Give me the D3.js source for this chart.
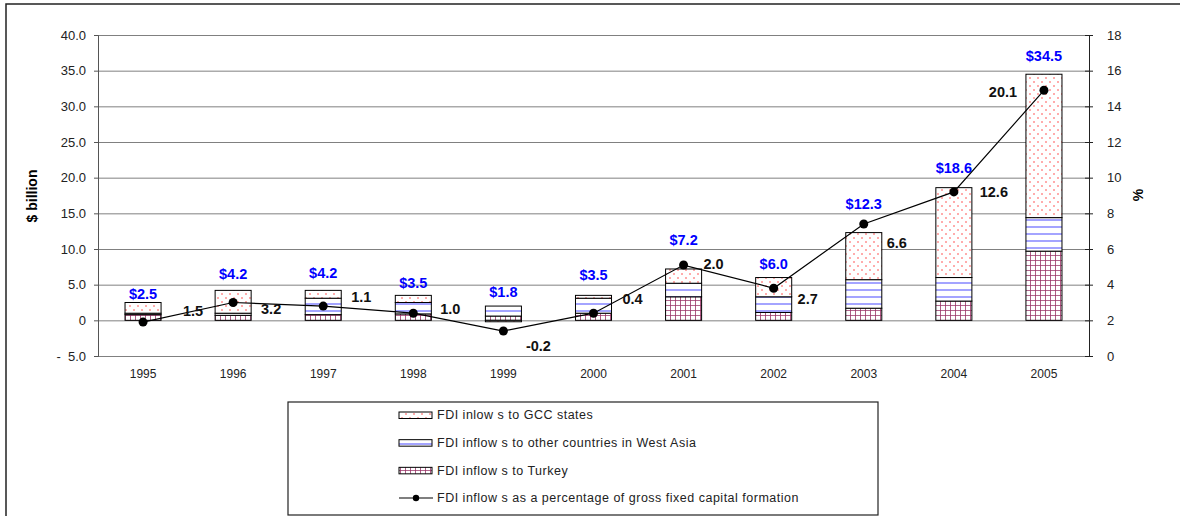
<!DOCTYPE html>
<html>
<head>
<meta charset="utf-8">
<script src="https://cdn.jsdelivr.net/npm/d3@7/dist/d3.min.js"></script>
<style>
  body { margin: 0; background: #fff; }
  text { font-family: "Liberation Sans", Arial, sans-serif; }
</style>
</head>
<body>
<div id="chart"></div>
<script>
// data
var years = ["1995", "1996", "1997", "1998", "1999", "2000", "2001", "2002", "2003", "2004", "2005"];
var turkey = [0.8, 0.7, 0.8, 0.9, 0.6, 1.0, 3.3, 1.1, 1.7, 2.7, 9.7];
var otherWestAsia = [0.2, 0.3, 2.3, 1.6, 1.4, 2.1, 1.9, 2.2, 4.0, 3.3, 4.7];
var gcc = [1.5, 3.2, 1.1, 1.0, -0.2, 0.4, 2.0, 2.7, 6.6, 12.6, 20.1];
var totals = [2.5, 4.2, 4.2, 3.5, 1.8, 3.5, 7.2, 6.0, 12.3, 18.6, 34.5];
var pctGFCF = [1.9, 3.0, 2.8, 2.4, 1.4, 2.4, 5.1, 3.8, 7.4, 9.2, 14.9];
var leftTicks = [-5, 0, 5, 10, 15, 20, 25, 30, 35, 40];
var rightTicks = [0, 2, 4, 6, 8, 10, 12, 14, 16, 18];
var legendLabels = [
  "FDI inlow s to GCC states",
  "FDI inflow s to other countries in West Asia",
  "FDI inflow s to Turkey",
  "FDI inflow s as a percentage of gross fixed capital formation"
];

// label placement (hand placed in the original)
var totalLift = [9, 16, 17, 12, 14, 20, 29, 14, 29, 20, 18];
var gccLabelDx = [50, 38, 38, 37, 35, 39, 30, 34, 33, 40, -41];
var gccLabelDy = [-11, 6, -9, -4, 15, -14, -1, 11, 19, 0, 2];

var W = 1180, H = 516;
var plotLeft = 98, plotRight = 1089, plotTop = 35, plotBottom = 356;

var svg = d3.select("#chart").append("svg")
  .attr("width", W)
  .attr("height", H);

// patterns
var defs = svg.append("defs");
var p1 = defs.append("pattern").attr("id", "pGcc")
  .attr("patternUnits", "userSpaceOnUse").attr("width", 8).attr("height", 8);
p1.append("rect").attr("width", 8).attr("height", 8).attr("fill", "#fff");
p1.append("circle").attr("cx", 2).attr("cy", 2).attr("r", 1).attr("fill", "#ff9090");
p1.append("circle").attr("cx", 6).attr("cy", 6).attr("r", 1).attr("fill", "#ff9090");

var p2 = defs.append("pattern").attr("id", "pWa")
  .attr("patternUnits", "userSpaceOnUse").attr("width", 8).attr("height", 7);
p2.append("rect").attr("width", 8).attr("height", 7).attr("fill", "#fff");
p2.append("rect").attr("y", 2).attr("width", 8).attr("height", 2).attr("fill", "#a4a4ff");

var p3 = defs.append("pattern").attr("id", "pTur")
  .attr("patternUnits", "userSpaceOnUse").attr("width", 5).attr("height", 5);
p3.append("rect").attr("width", 5).attr("height", 5).attr("fill", "#fff");
p3.append("path").attr("d", "M0,0H5M0,0V5").attr("stroke", "#993366").attr("stroke-width", 1.6);

// outer frame
svg.append("path")
  .attr("d", "M6," + H + "V4H" + W)
  .attr("fill", "none")
  .attr("stroke", "#222")
  .attr("stroke-width", 1.5);

var x = d3.scaleBand()
  .domain(years)
  .range([plotLeft, plotRight])
  .paddingInner(0.6)
  .paddingOuter(0.3);

var y = d3.scaleLinear().domain([-5, 40]).range([plotBottom, plotTop]);
var y2 = d3.scaleLinear().domain([0, 18]).range([plotBottom, plotTop]);

var num = function (d) { return d.toFixed(1); }; // plain hyphen for negatives

// gridlines
svg.append("g")
  .attr("transform", "translate(" + plotLeft + ",0)")
  .call(d3.axisLeft(y).tickValues(leftTicks).tickSize(-(plotRight - plotLeft)).tickFormat(""))
  .call(function (g) { g.select(".domain").remove(); })
  .selectAll("line")
  .attr("stroke", "#808080");

// left axis
var fmtLeft = function (d) {
  if (d === 0) return "0";
  if (d < 0) return "-  " + num(-d);
  return num(d);
};
svg.append("g")
  .attr("transform", "translate(" + plotLeft + ",0)")
  .call(d3.axisLeft(y).tickValues(leftTicks).tickSize(4).tickPadding(8).tickFormat(fmtLeft))
  .call(function (g) {
    g.select(".domain").attr("stroke", "#555");
    g.selectAll("line").attr("stroke", "#555");
    g.selectAll("text").attr("font-size", "13px").attr("fill", "#222").style("white-space", "pre");
  });

// right axis
svg.append("g")
  .attr("transform", "translate(" + plotRight + ",0)")
  .call(d3.axisRight(y2).tickValues(rightTicks).tickSize(4).tickPadding(14))
  .call(function (g) {
    g.select(".domain").attr("stroke", "#222");
    g.selectAll("line").attr("stroke", "#222").attr("x1", -4);
    g.selectAll("text").attr("font-size", "13px").attr("fill", "#222");
  });

// x labels
svg.append("g")
  .attr("transform", "translate(0," + plotBottom + ")")
  .call(d3.axisBottom(x).tickSize(0).tickPadding(13))
  .call(function (g) {
    g.select(".domain").remove();
    g.selectAll("text").attr("font-size", "12px").attr("fill", "#222");
  });

// axis titles
svg.append("text")
  .attr("transform", "translate(37,196) rotate(-90)")
  .attr("text-anchor", "middle")
  .attr("font-size", "14px")
  .attr("font-weight", "bold")
  .text("$ billion");

svg.append("text")
  .attr("transform", "translate(1143,195) rotate(-90)")
  .attr("text-anchor", "middle")
  .attr("font-size", "14px")
  .attr("font-weight", "bold")
  .text("%");

// stacked bars
var rows = years.map(function (yr, i) {
  return { year: yr, turkey: turkey[i], wa: otherWestAsia[i], gcc: gcc[i] };
});
var keys = ["turkey", "wa", "gcc"];
var fills = { turkey: "url(#pTur)", wa: "url(#pWa)", gcc: "url(#pGcc)" };
var series = d3.stack().keys(keys).offset(d3.stackOffsetDiverging)(rows);

svg.append("g")
  .selectAll("g")
  .data(series)
  .join("g")
  .attr("fill", function (s) { return fills[s.key]; })
  .selectAll("rect")
  .data(function (s) { return s; })
  .join("rect")
  .attr("x", function (d) { return x(d.data.year); })
  .attr("y", function (d) { return y(Math.max(d[0], d[1])); })
  .attr("width", x.bandwidth())
  .attr("height", function (d) { return Math.abs(y(d[0]) - y(d[1])); })
  .attr("stroke", "#000")
  .attr("stroke-width", 1);

// percentage line
var cx = function (i) { return x(years[i]) + x.bandwidth() / 2; };
var line = d3.line()
  .x(function (d, i) { return cx(i); })
  .y(function (d) { return y2(d); });

svg.append("path")
  .datum(pctGFCF)
  .attr("d", line)
  .attr("fill", "none")
  .attr("stroke", "#000")
  .attr("stroke-width", 1.2);

svg.append("g")
  .selectAll("circle")
  .data(pctGFCF)
  .join("circle")
  .attr("cx", function (d, i) { return cx(i); })
  .attr("cy", function (d) { return y2(d); })
  .attr("r", 4.5)
  .attr("fill", "#000");

// total labels
svg.append("g")
  .selectAll("text")
  .data(totals)
  .join("text")
  .attr("x", function (d, i) { return cx(i); })
  .attr("y", function (d, i) { return y(d3.max([d, turkey[i] + otherWestAsia[i]])) - totalLift[i]; })
  .attr("dy", "0.35em")
  .attr("text-anchor", "middle")
  .attr("font-size", "14.5px")
  .attr("font-weight", "bold")
  .attr("fill", "#0000ff")
  .text(function (d) { return "$" + num(d); });

// GCC value labels
svg.append("g")
  .selectAll("text")
  .data(gcc)
  .join("text")
  .attr("x", function (d, i) { return cx(i) + gccLabelDx[i]; })
  .attr("y", function (d, i) { return y2(pctGFCF[i]) + gccLabelDy[i]; })
  .attr("dy", "0.35em")
  .attr("text-anchor", "middle")
  .attr("font-size", "14.5px")
  .attr("font-weight", "bold")
  .attr("fill", "#111")
  .text(function (d) { return num(d); });

// legend
var lg = svg.append("g");
lg.append("rect")
  .attr("x", 288).attr("y", 402)
  .attr("width", 590).attr("height", 113)
  .attr("fill", "#fff")
  .attr("stroke", "#222")
  .attr("stroke-width", 1.2);

var legendFills = ["url(#pGcc)", "url(#pWa)", "url(#pTur)", null];
var ly = d3.scalePoint().domain(d3.range(4)).range([415, 498]);

legendLabels.forEach(function (lab, i) {
  var yy = ly(i);
  if (legendFills[i]) {
    lg.append("rect")
      .attr("x", 399).attr("y", yy - 3)
      .attr("width", 33).attr("height", 6.5)
      .attr("fill", legendFills[i])
      .attr("stroke", "#000")
      .attr("stroke-width", 1);
  } else {
    lg.append("line")
      .attr("x1", 399).attr("x2", 433)
      .attr("y1", yy).attr("y2", yy)
      .attr("stroke", "#000").attr("stroke-width", 1.2);
    lg.append("circle")
      .attr("cx", 416).attr("cy", yy).attr("r", 3.2)
      .attr("fill", "#000");
  }
  lg.append("text")
    .attr("x", 437).attr("y", yy)
    .attr("dy", "0.35em")
    .attr("font-size", "12.5px")
    .attr("letter-spacing", "0.5px")
    .attr("fill", "#222")
    .text(lab);
});
</script>
</body>
</html>
